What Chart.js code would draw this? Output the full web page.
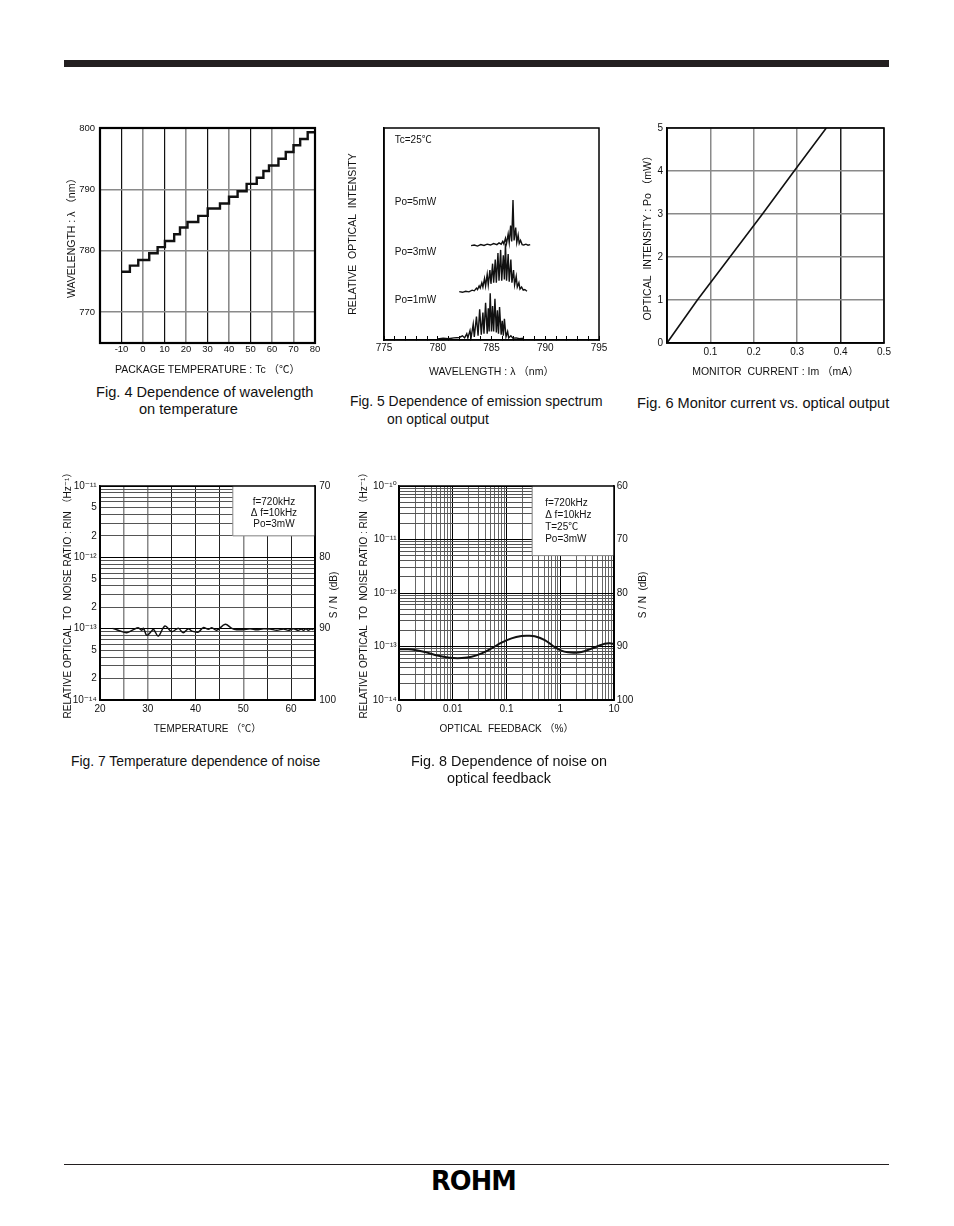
<!DOCTYPE html>
<html><head><meta charset="utf-8">
<script src="https://cdn.jsdelivr.net/npm/chart.js@4.4.1/dist/chart.umd.min.js"></script>
<style>
html,body{margin:0;padding:0;background:#fff;}
#page{position:relative;width:954px;height:1226px;overflow:hidden;font-family:'Liberation Sans',Arial,Helvetica,'Noto Sans CJK JP',sans-serif;color:#111;}
canvas{position:absolute;}
.cap{position:absolute;font-size:13.9px;white-space:nowrap;line-height:15px;}
.bar{position:absolute;background:#231f20;}
.logo{position:absolute;left:431px;top:1166px;font-family:'DejaVu Sans',sans-serif;font-weight:900;font-size:27px;line-height:30px;letter-spacing:-1px;transform:scaleX(0.95);transform-origin:left top;color:#000;}
</style></head><body><div id="page">
<div class="bar" style="left:64px;top:60px;width:825px;height:7px"></div>

<canvas id="c4" width="275" height="270" style="left:55px;top:110px;width:275px;height:270px"></canvas>
<canvas id="c5" width="275" height="270" style="left:340px;top:110px;width:275px;height:270px"></canvas>
<canvas id="c6" width="270" height="270" style="left:630px;top:110px;width:270px;height:270px"></canvas>
<canvas id="c7" width="300" height="275" style="left:55px;top:470px;width:300px;height:275px"></canvas>
<canvas id="c8" width="310" height="275" style="left:350px;top:470px;width:310px;height:275px"></canvas>

<div class="cap" style="left:96px;top:385px;font-size:14.6px">Fig. 4 Dependence of wavelength</div>
<div class="cap" style="left:139px;top:402px;font-size:14.6px">on temperature</div>
<div class="cap" style="left:350px;top:394px">Fig. 5 Dependence of emission spectrum</div>
<div class="cap" style="left:387px;top:412px">on optical output</div>
<div class="cap" style="left:637px;top:396px;font-size:14.6px">Fig. 6 Monitor current vs. optical output</div>
<div class="cap" style="left:71px;top:754px">Fig. 7 Temperature dependence of noise</div>
<div class="cap" style="left:411px;top:754px;font-size:14.4px">Fig. 8 Dependence of noise on</div>
<div class="cap" style="left:447px;top:771px;font-size:14.4px">optical feedback</div>

<div class="bar" style="left:64px;top:1164px;width:825px;height:1px"></div>
<div class="logo">ROHM</div>
</div>
<script>
// ================= DATA =================
// Fig.4 wavelength vs package temperature (staircase: start of each level)
const fig4Temp = [-10,-6.1,-2.2,2.9,6.8,10.2,14.5,17.2,20.7,25.7,30.1,35.8,40,44,48.2,52.9,56,58.6,63,66.4,70,73.1,76.6,80];
const fig4Wave = [776.6,777.6,778.5,779.6,780.6,781.6,782.7,783.8,784.7,785.7,786.9,787.7,788.8,789.7,790.9,791.9,793.0,793.9,795.0,796.1,797.2,798.2,799.3,799.3];
const fig4XTicks = [-20,-10,0,10,20,30,40,50,60,70,80];
const fig4XLabels = ['','-10','0','10','20','30','40','50','60','70','80'];
const fig4YTicks = [770,780,790,800];
const fig4YLabels = ['770','780','790','800'];

// Fig.5 emission spectra (relative intensity, arbitrary units, curves stacked)
const fig5Wave5mW = [783.1,783.4,783.7,784.0,784.3,784.6,784.9,785.2,785.5,785.7,785.9,786.05,786.15,786.3,786.4,786.55,786.65,786.78,786.88,787.0,787.1,787.25,787.35,787.48,787.58,787.7,787.85,788.0,788.2,788.4,788.6];
const fig5Int5mW  = [44.5,44.8,44.3,45.0,44.6,45.2,44.8,45.5,45.0,45.8,45.2,46.5,45.3,48,45.5,50,46,54,46.5,66,47,53,46,49.5,45.5,47,45,44.8,45.2,44.7,45];
const fig5Wave3mW = [782.0,782.3,782.6,782.9,783.2,783.4,783.6,783.7,783.85,783.95,784.1,784.2,784.35,784.45,784.6,784.7,784.85,784.95,785.1,785.2,785.35,785.45,785.6,785.7,785.85,785.95,786.1,786.2,786.3,786.4,786.55,786.65,786.8,786.9,787.05,787.15,787.3,787.4,787.55,787.65,787.8,787.95,788.1,788.3];
const fig5Int3mW  = [22.8,22.5,23.0,22.7,23.5,23.2,24.5,23.8,25.5,24.5,27,25,29,25.5,31,26,33,26.5,36,27,38,27,41,28,42.5,28,40,28.5,45.5,28,40.5,27.5,38,27,33,26,30,25,27,24,25,23.5,23.8,23];
const fig5Wave1mW = [780.0,780.5,781.0,781.5,782.0,782.3,782.5,782.7,782.8,783.0,783.1,783.3,783.4,783.6,783.75,783.9,784.05,784.2,784.3,784.45,784.6,784.7,784.78,784.88,785.0,785.1,785.2,785.32,785.45,785.55,785.65,785.75,785.9,786.0,786.1,786.2,786.35,786.5,786.6,786.8,787.0,787.3,787.6,788.0];
const fig5Int1mW  = [0.5,0.8,0.6,1.0,1.2,2.0,1.0,3.0,1.0,4.5,1.0,7.5,1.5,11,2,14.5,2.5,13,3,17.5,3,15,4,22,4,16,4,19.5,3.5,14,3,15.5,2.5,9,2,10,1.5,4,1,2,0.8,1.0,0.6,0.8];
const fig5XTicks = [775,776,777,778,779,780,781,782,783,784,785,786,787,788,789,790,791,792,793,794,795];
const fig5XLabels = ['775','','','','','780','','','','','785','','','','','790','','','','','795'];

// Fig.6 monitor current vs optical output
const fig6Current = [0,0.07,0.145,0.22,0.293,0.367];
const fig6Power   = [0,1.0,2.0,3.0,4.0,5.0];
const fig6XTicks = [0,0.1,0.2,0.3,0.4,0.5];
const fig6XLabels = ['','0.1','0.2','0.3','0.4','0.5'];
const fig6YTicks = [0,1,2,3,4,5];
const fig6YLabels = ['0','1','2','3','4','5'];

// Fig.7 RIN vs temperature
const fig7Temp = [22.65,23.5,24.2,25.6,27.0,28.0,28.7,29.1,29.8,30.8,31.2,32.2,33.6,35.0,36.4,37.4,38.5,39.2,40.6,41.6,42.7,43.4,44.4,46.2,47.6,48.6,50.0,51.4,52.8,54.2,55.6,57.0,58.4,59.4,60.5,61.5,62.1,62.6,63.1,63.6,64.1,64.7];
const fig7Rin  = [1.01e-13,0.968e-13,0.927e-13,0.879e-13,0.968e-13,1.033e-13,0.948e-13,1.01e-13,0.806e-13,0.927e-13,0.979e-13,0.789e-13,1.09e-13,0.908e-13,1.01e-13,0.879e-13,1.0e-13,0.927e-13,0.898e-13,1.033e-13,0.979e-13,1.033e-13,0.948e-13,1.15e-13,1.01e-13,0.968e-13,0.968e-13,1.0e-13,0.968e-13,1.0e-13,0.99e-13,0.948e-13,0.99e-13,0.948e-13,1.0e-13,0.948e-13,0.99e-13,0.95e-13,1.0e-13,0.95e-13,0.99e-13,0.97e-13];
const fig7XTicks = [20,25,30,35,40,45,50,55,60,65];
const fig7XLabels = ['20','','30','','40','','50','','60',''];
const fig7YLabeled = [[1e-14,'10⁻¹⁴'],[2e-14,'2'],[5e-14,'5'],[1e-13,'10⁻¹³'],[2e-13,'2'],[5e-13,'5'],[1e-12,'10⁻¹²'],[2e-12,'2'],[5e-12,'5'],[1e-11,'10⁻¹¹']];
const fig7SNTicks = [70,80,90,100];
const fig7SNLabels = ['70','80','90','100'];

// Fig.8 RIN vs optical feedback
const fig8Feedback = [0.001,0.00149,0.00198,0.00304,0.00467,0.00716,0.0102,0.0146,0.0224,0.0344,0.0527,0.0808,0.124,0.190,0.253,0.336,0.516,0.736,1.05,1.40,1.86,2.48,3.54,5.06,6.73,8.34,10];
const fig8Rin = [0.885e-13,0.885e-13,0.86e-13,0.789e-13,0.694e-13,0.636e-13,0.609e-13,0.609e-13,0.646e-13,0.745e-13,0.924e-13,1.18e-13,1.42e-13,1.57e-13,1.59e-13,1.55e-13,1.32e-13,1.02e-13,0.836e-13,0.778e-13,0.767e-13,0.789e-13,0.885e-13,1.02e-13,1.13e-13,1.15e-13,1.11e-13];
const fig8XLabeled = [[0.001,'0'],[0.01,'0.01'],[0.1,'0.1'],[1,'1'],[10,'10']];
const fig8YLabeled = [[1e-14,'10⁻¹⁴'],[1e-13,'10⁻¹³'],[1e-12,'10⁻¹²'],[1e-11,'10⁻¹¹'],[1e-10,'10⁻¹⁰']];
const fig8SNTicks = [60,70,80,90,100];
const fig8SNLabels = ['60','70','80','90','100'];

// ================= HELPERS =================
const FONT = "'Liberation Sans', Arial, Helvetica, 'Noto Sans CJK JP', 'DejaVu Sans', sans-serif";
Chart.defaults.font.family = FONT;
Chart.defaults.font.size = 10;
Chart.defaults.color = '#111';
Chart.defaults.animation = false;
Chart.defaults.plugins.legend.display = false;
Chart.defaults.plugins.tooltip.enabled = false;
Chart.defaults.elements.point.radius = 0;

function logGrid(e0, e1) { // grid positions 1..9 x 10^n
  const out = [];
  for (let e = e0; e < e1; e++) for (let d = 1; d < 10; d++) out.push(d * Math.pow(10, e));
  out.push(Math.pow(10, e1));
  return out;
}
function lookup(list, v) {
  for (const [val, lab] of list) if (Math.abs(v / val - 1) < 1e-6) return lab;
  return '';
}
function isDecade(v) { const l = Math.log10(v); return Math.abs(l - Math.round(l)) < 1e-6; }
function pts(xs, ys) { return xs.map((x, i) => ({x, y: ys[i]})); }
const setTicks = vals => s => { s.ticks = vals.map(v => ({value: v})); };
const fixW = w => s => { s.width = w; };
const fixH = h => s => { s.height = h; };

const notesPlugin = {
  id: 'notes',
  beforeDatasetsDraw(chart, args, o) {
    if (!o || !o.box) return;
    const {ctx, chartArea: a, scales} = chart;
    const b = o.box;
    const x0 = scales.x.getPixelForValue(b.x0);
    const y0 = scales.y.getPixelForValue(b.y0);
    ctx.save();
    ctx.fillStyle = '#fff';
    ctx.fillRect(x0, a.top, a.right - x0, y0 - a.top);
    ctx.strokeStyle = b.edge; ctx.lineWidth = 1;
    ctx.beginPath(); ctx.moveTo(x0, a.top); ctx.lineTo(x0, y0); ctx.lineTo(a.right, y0); ctx.stroke();
    ctx.fillStyle = '#111'; ctx.font = '10px ' + FONT; ctx.textBaseline = 'middle';
    ctx.textAlign = b.align;
    const tx = b.align === 'center' ? (x0 + a.right) / 2 : x0 + b.dx;
    b.lines.forEach((t, i) => ctx.fillText(t, tx, a.top + b.dy[i]));
    ctx.restore();
  },
  afterDatasetsDraw(chart, args, o) {
    const {ctx, chartArea: a, scales} = chart;
    ctx.save();
    ctx.fillStyle = '#111';
    if (o && o.texts) {
      ctx.font = '10px ' + FONT; ctx.textBaseline = 'middle'; ctx.textAlign = 'left';
      o.texts.forEach(t => ctx.fillText(t.text, scales.x.getPixelForValue(t.x), scales.y.getPixelForValue(t.y)));
    }
    if (o && o.side) {
      ctx.font = '10px ' + FONT; ctx.textBaseline = 'middle'; ctx.textAlign = 'center';
      ctx.translate(a.right + o.side.dx, (a.top + a.bottom) / 2 + o.side.dy);
      ctx.rotate(-Math.PI / 2);
      ctx.fillText(o.side.text, 0, 0);
      ctx.setTransform(1, 0, 0, 1, 0, 0);
    }
    ctx.restore();
    ctx.save();
    ctx.strokeStyle = '#000'; ctx.lineWidth = (o && o.frame) || 1.5;
    ctx.strokeRect(a.left, a.top, a.right - a.left, a.bottom - a.top);
    ctx.restore();
  }
};
Chart.register(notesPlugin);

// ================= FIG 4 =================
new Chart(document.getElementById('c4'), {
  type: 'line',
  data: { datasets: [{ data: pts(fig4Temp, fig4Wave), stepped: true, borderColor: '#111', borderWidth: 2.4, fill: false }] },
  options: {
    responsive: false,
    layout: { padding: { top: 18, right: 15, left: 0, bottom: 0 } },
    plugins: { notes: { frame: 2.2 } },
    scales: {
      x: { type: 'linear', min: -20, max: 80, afterBuildTicks: setTicks(fig4XTicks), afterFit: fixH(37),
        ticks: { autoSkip: false, maxRotation: 0, padding: 1, font: { size: 9.5 }, callback: (v, i) => fig4XLabels[i] },
        grid: { drawTicks: false, color: c => [-10, 10, 30, 50].includes(c.tick.value) ? '#111' : '#8a8a8a', lineWidth: c => [-10, 10, 30, 50].includes(c.tick.value) ? 1.2 : 1.6 },
        border: { color: '#000', width: 2 },
        title: { display: true, text: 'PACKAGE TEMPERATURE : Tc （℃）', font: { size: 10.5 }, padding: { top: 0, bottom: 3.7 } } },
      y: { type: 'linear', min: 765, max: 800, afterBuildTicks: setTicks(fig4YTicks), afterFit: fixW(45),
        ticks: { autoSkip: false, padding: 5, font: { size: 9.5 }, callback: (v, i) => fig4YLabels[i] },
        grid: { drawTicks: false, color: '#8a8a8a', lineWidth: 1.6 },
        border: { color: '#000', width: 2 },
        title: { display: true, text: 'WAVELENGTH : λ （nm）', font: { size: 10.5 }, padding: { top: 10.4, bottom: 0 } } }
    }
  }
});

// ================= FIG 5 =================
new Chart(document.getElementById('c5'), {
  type: 'line',
  data: { datasets: [
    { data: pts(fig5Wave5mW, fig5Int5mW), borderColor: '#111', borderWidth: 1.4, fill: false, tension: 0 },
    { data: pts(fig5Wave3mW, fig5Int3mW), borderColor: '#111', borderWidth: 1.4, fill: false, tension: 0 },
    { data: pts(fig5Wave1mW, fig5Int1mW), borderColor: '#111', borderWidth: 1.4, fill: false, tension: 0 }
  ] },
  options: {
    responsive: false,
    layout: { padding: { top: 18, right: 16, left: 0, bottom: 0 } },
    plugins: { notes: { frame: 1.5, texts: [
      { text: 'Tc=25℃', x: 776.0, y: 94.2 },
      { text: 'Po=5mW', x: 776.0, y: 65 },
      { text: 'Po=3mW', x: 776.0, y: 41.6 },
      { text: 'Po=1mW', x: 776.0, y: 18.7 }
    ] } },
    scales: {
      x: { type: 'linear', min: 775, max: 795, afterBuildTicks: setTicks(fig5XTicks), afterFit: fixH(40),
        ticks: { autoSkip: false, maxRotation: 0, padding: 6.3, callback: (v, i) => fig5XLabels[i] },
        grid: { drawOnChartArea: false, drawTicks: true, tickLength: -4, tickColor: '#000', lineWidth: 1 },
        border: { color: '#000', width: 1.5 },
        title: { display: true, text: 'WAVELENGTH : λ （nm）', font: { size: 10.5 }, padding: { top: 0, bottom: 2 } } },
      y: { type: 'linear', min: 0, max: 100, afterFit: fixW(44),
        ticks: { display: false },
        grid: { display: false, drawTicks: false },
        border: { color: '#000', width: 1.5 },
        title: { display: true, text: 'RELATIVE  OPTICAL  INTENSITY', font: { size: 10.5 }, padding: { top: 7, bottom: 0 } } }
    }
  }
});

// ================= FIG 6 =================
new Chart(document.getElementById('c6'), {
  type: 'line',
  data: { datasets: [{ data: pts(fig6Current, fig6Power), borderColor: '#111', borderWidth: 1.6, fill: false, tension: 0 }] },
  options: {
    responsive: false,
    layout: { padding: { top: 18, right: 16, left: 0, bottom: 0 } },
    plugins: { notes: { frame: 1.6 } },
    scales: {
      x: { type: 'linear', min: 0, max: 0.5, afterBuildTicks: setTicks(fig6XTicks), afterFit: fixH(37),
        ticks: { autoSkip: false, maxRotation: 0, padding: 3.7, callback: (v, i) => fig6XLabels[i] },
        grid: { drawTicks: false, color: c => Math.abs(c.tick.value - 0.4) < 1e-9 ? '#222' : '#8a8a8a', lineWidth: 1.5 },
        border: { color: '#000', width: 1.6 },
        title: { display: true, text: 'MONITOR  CURRENT : Im （mA）', font: { size: 10.5 }, padding: { top: 0, bottom: 2 } } },
      y: { type: 'linear', min: 0, max: 5, afterBuildTicks: setTicks(fig6YTicks), afterFit: fixW(37),
        ticks: { autoSkip: false, padding: 4, callback: (v, i) => fig6YLabels[i] },
        grid: { drawTicks: false, color: '#8a8a8a', lineWidth: 1.5 },
        border: { color: '#000', width: 1.6 },
        title: { display: true, text: 'OPTICAL  INTENSITY : Po （mW）', font: { size: 10.5 }, padding: { top: 12, bottom: 0 } } }
    }
  }
});

// ================= FIG 7 =================
new Chart(document.getElementById('c7'), {
  type: 'line',
  data: { datasets: [{ data: pts(fig7Temp, fig7Rin), borderColor: '#111', borderWidth: 1.5, fill: false, tension: 0.35 }] },
  options: {
    responsive: false,
    layout: { padding: { top: 16, right: 0, left: 0, bottom: 0 } },
    plugins: { notes: {
      frame: 1.5,
      box: { x0: 47.8, y0: 2e-12, edge: '#888', align: 'center', lines: ['f=720kHz', 'Δ f=10kHz', 'Po=3mW'], dy: [16, 27, 38] },
      side: { text: 'S / N  (dB)', dx: 19, dy: 2 }
    } },
    scales: {
      x: { type: 'linear', min: 20, max: 65, afterBuildTicks: setTicks(fig7XTicks), afterFit: fixH(45),
        ticks: { autoSkip: false, maxRotation: 0, padding: 3.3, callback: (v, i) => fig7XLabels[i] },
        grid: { drawTicks: false, color: c => [25, 30, 50].includes(c.tick.value) ? '#888' : '#222', lineWidth: c => [25, 30, 50].includes(c.tick.value) ? 1.5 : 1 },
        border: { color: '#000', width: 1.5 },
        title: { display: true, text: 'TEMPERATURE （℃）', padding: { top: 0, bottom: 9.7 } } },
      y: { type: 'logarithmic', min: 1e-14, max: 1e-11, afterBuildTicks: setTicks(logGrid(-14, -11)), afterFit: fixW(45),
        ticks: { autoSkip: false, padding: 3.3, callback: v => lookup(fig7YLabeled, v) },
        grid: { drawTicks: false, color: c => isDecade(c.tick.value) ? '#000' : '#555', lineWidth: 1 },
        border: { color: '#000', width: 1.5 },
        title: { display: true, text: 'RELATIVE OPTICAL  TO  NOISE RATIO : RIN （Hz⁻¹）', padding: { top: 7.5, bottom: 0 } } },
      y2: { type: 'linear', axis: 'y', position: 'right', reverse: true, min: 70, max: 100, afterBuildTicks: setTicks(fig7SNTicks), afterFit: fixW(40),
        ticks: { autoSkip: false, padding: 4.3, callback: (v, i) => fig7SNLabels[i] },
        grid: { display: false, drawTicks: false },
        border: { color: '#000', width: 1.5 } }
    }
  }
});

// ================= FIG 8 =================
new Chart(document.getElementById('c8'), {
  type: 'line',
  data: { datasets: [{ data: pts(fig8Feedback, fig8Rin), borderColor: '#111', borderWidth: 2, fill: false, tension: 0.4 }] },
  options: {
    responsive: false,
    layout: { padding: { top: 16, right: 0, left: 0, bottom: 0 } },
    plugins: { notes: {
      frame: 1.5,
      box: { x0: 0.3, y0: 5e-12, edge: '#888', align: 'left', dx: 13, lines: ['f=720kHz', 'Δ f=10kHz', 'T=25℃', 'Po=3mW'], dy: [17, 29, 41, 53] },
      side: { text: 'S / N  (dB)', dx: 29, dy: 2 }
    } },
    scales: {
      x: { type: 'logarithmic', min: 0.001, max: 10, afterBuildTicks: setTicks(logGrid(-3, 1)), afterFit: fixH(45),
        ticks: { autoSkip: false, maxRotation: 0, padding: 3, callback: v => lookup(fig8XLabeled, v) },
        grid: { drawTicks: false, color: c => isDecade(c.tick.value) ? '#000' : '#666', lineWidth: 1 },
        border: { color: '#000', width: 1.5 },
        title: { display: true, text: 'OPTICAL  FEEDBACK （%）', padding: { top: 0, bottom: 9.7 } } },
      y: { type: 'logarithmic', min: 1e-14, max: 1e-10, afterBuildTicks: setTicks(logGrid(-14, -10)), afterFit: fixW(49),
        ticks: { autoSkip: false, padding: 2.3, callback: v => lookup(fig8YLabeled, v) },
        grid: { drawTicks: false, color: c => isDecade(c.tick.value) ? '#000' : '#555', lineWidth: 1 },
        border: { color: '#000', width: 1.5 },
        title: { display: true, text: 'RELATIVE OPTICAL  TO  NOISE RATIO : RIN （Hz⁻¹）', padding: { top: 8.5, bottom: 0 } } },
      y2: { type: 'linear', axis: 'y', position: 'right', reverse: true, min: 60, max: 100, afterBuildTicks: setTicks(fig8SNTicks), afterFit: fixW(46),
        ticks: { autoSkip: false, padding: 2.7, callback: (v, i) => fig8SNLabels[i] },
        grid: { display: false, drawTicks: false },
        border: { color: '#000', width: 1.5 } }
    }
  }
});
</script>
</body></html>
